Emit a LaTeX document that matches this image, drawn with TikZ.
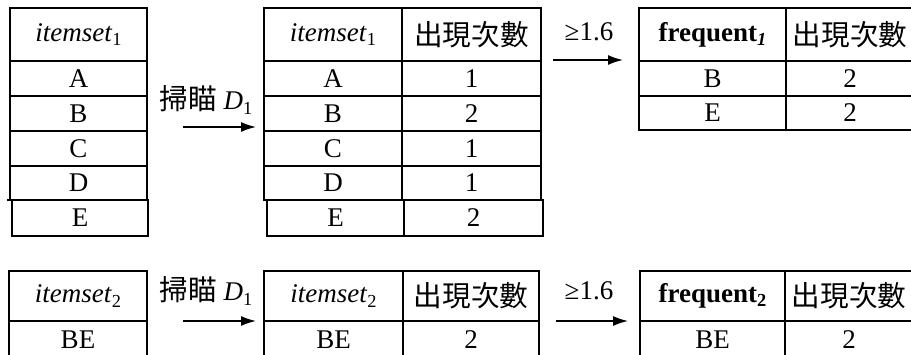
\documentclass[tikz,border=0pt]{standalone}
\usepackage{fontspec}
\setmainfont{Liberation Serif}
\newfontfamily\cjk[Scale=1.06]{Noto Sans CJK TC}
\usetikzlibrary{arrows.meta}
\newcommand\lsub[1]{\raisebox{-0.35ex}{\scalebox{0.68}{#1}}}
\newcommand\cellbox[6]{\node[cell, minimum width={#4pt-#2pt}, minimum height={#5pt-#3pt}] (#1) at (#2,#3) {#6};}
\tikzset{
  cell/.style={draw, line width=1.8pt, rectangle, inner sep=0pt, outer sep=0pt, anchor=north west},
  lbl/.style={inner sep=0pt},
  arr/.style={-{Latex[length=15pt,width=10pt]}, line width=1.5pt},
}
\begin{document}
\begin{tikzpicture}[x=1pt,y=-1pt,font=\fontsize{27}{31}\selectfont]
\useasboundingbox (0,0) rectangle (911,355);
\clip (0,0) rectangle (911,355);
% ---- top table 1
\cellbox{t1h}{10}{8}{147}{61}{\textit{itemset}\lsub{1}}
\cellbox{t1a}{10}{61}{147}{96}{A}
\cellbox{t1b}{10}{96}{147}{131}{B}
\cellbox{t1c}{10}{131}{147}{166}{C}
\cellbox{t1d}{10}{166}{147}{200}{D}
\cellbox{t1e}{12}{200}{148}{236}{E}
\coordinate (t1x) at (7,200);
\draw[line width=1.8pt] (t1x) -- (t1e.north west);
% ---- top table 2
\cellbox{t2h}{264}{8}{402}{61}{\textit{itemset}\lsub{1}}
\cellbox{t2hc}{402}{8}{541}{61}{\cjk 出現次數}
\cellbox{t2a}{264}{61}{402}{96}{A}
\cellbox{t2ac}{402}{61}{541}{96}{1}
\cellbox{t2b}{264}{96}{402}{131}{B}
\cellbox{t2bc}{402}{96}{541}{131}{2}
\cellbox{t2c}{264}{131}{402}{166}{C}
\cellbox{t2cc}{402}{131}{541}{166}{1}
\cellbox{t2d}{264}{166}{402}{200}{D}
\cellbox{t2dc}{402}{166}{541}{200}{1}
\cellbox{t2e}{267}{200}{404}{236}{E}
\cellbox{t2ec}{404}{200}{543}{236}{2}
% ---- top table 3
\cellbox{t3h}{639}{8}{786}{61}{\textbf{frequent}\lsub{\textbf{\textit{1}}}}
\cellbox{t3hc}{786}{8}{914}{61}{\cjk 出現次數}
\cellbox{t3b}{639}{61}{786}{96}{B}
\cellbox{t3bc}{786}{61}{914}{96}{2}
\cellbox{t3e}{639}{96}{786}{130}{E}
\cellbox{t3ec}{786}{96}{914}{130}{2}
% ---- bottom table 1
\cellbox{b1h}{9}{271}{147}{321}{\textit{itemset}\lsub{2}}
\cellbox{b1a}{9}{321}{147}{358}{BE}
% ---- bottom table 2
\cellbox{b2h}{264}{271}{403}{321}{\textit{itemset}\lsub{2}}
\cellbox{b2hc}{403}{271}{539}{321}{\cjk 出現次數}
\cellbox{b2a}{264}{321}{403}{358}{BE}
\cellbox{b2ac}{403}{321}{539}{358}{2}
% ---- bottom table 3
\cellbox{b3h}{640}{271}{785}{321}{\textbf{frequent}\lsub{\textbf{2}}}
\cellbox{b3hc}{785}{271}{913}{321}{\cjk 出現次數}
\cellbox{b3a}{640}{321}{785}{358}{BE}
\cellbox{b3ac}{785}{321}{913}{358}{2}
% ---- arrows
\coordinate (a1s) at (183,127); \coordinate (a1e) at (256,127);
\coordinate (a2s) at (553,60);  \coordinate (a2e) at (623,60);
\coordinate (a3s) at (183,321); \coordinate (a3e) at (256,321);
\coordinate (a4s) at (556,321); \coordinate (a4e) at (628,321);
\draw[arr] (a1s) -- (a1e);
\draw[arr] (a2s) -- (a2e);
\draw[arr] (a3s) -- (a3e);
\draw[arr] (a4s) -- (a4e);
\node[lbl] (l1) at (206,100) {{\cjk 掃瞄} \textit{D}\lsub{1}};
\node[lbl] (l2) at (589,32) {≥1.6};
\node[lbl] (l3) at (206,291) {{\cjk 掃瞄} \textit{D}\lsub{1}};
\node[lbl] (l4) at (589,291) {≥1.6};
\end{tikzpicture}
\end{document}
